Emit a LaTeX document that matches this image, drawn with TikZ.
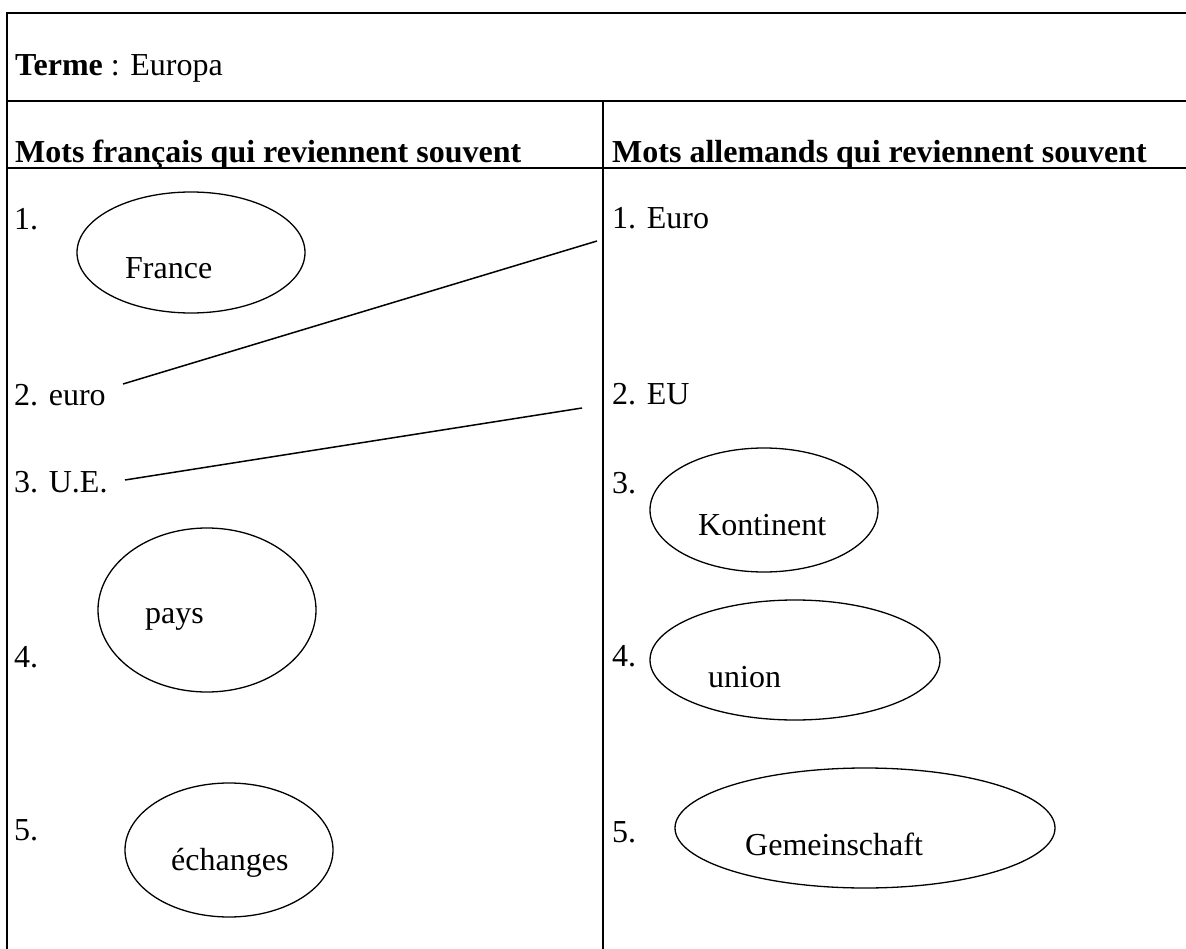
\documentclass[tikz,border=0pt]{standalone}
\usepackage{fontspec}
\setmainfont{Liberation Serif}
\usetikzlibrary{shapes.geometric}
\tikzset{
  rule/.style={line width=2pt},
  txt/.style={anchor=base west, inner sep=0pt, font=\fontsize{32}{38}\selectfont},
  oval/.style={draw, ellipse, line width=1.3pt, inner sep=0pt},
  link/.style={line width=1.5pt}
}
\begin{document}
\begin{tikzpicture}[x=1pt, y=-1pt]
\useasboundingbox (0,0) rectangle (1186,949);
% table rules
\draw[rule] (7,949) -- (7,12.7) -- (1186,12.7);
\draw[rule] (7,101.5) -- (1186,101.5);
\draw[rule] (7,167.7) -- (1186,167.7);
\draw[rule] (603,101.5) -- (603,949);
% headers
\node[txt] (terme) at (15,76) {\textbf{Terme} : Europa};
\node[txt] (hfr) at (15,163) {\textbf{Mots français qui reviennent souvent}};
\node[txt] (hde) at (612,163) {\textbf{Mots allemands qui reviennent souvent}};
% left column
\node[txt] (l1) at (14,230) {1.};
\node[txt] (l2) at (14,406) {2. euro};
\node[txt] (l3) at (14,492) {3. U.E.};
\node[txt] (l4) at (14,667) {4.};
\node[txt] (l5) at (14,840) {5.};
% right column
\node[txt] (r1) at (612,229) {1. Euro};
\node[txt] (r2) at (612,405) {2. EU};
\node[txt] (r3) at (612,493) {3.};
\node[txt] (r4) at (612,666) {4.};
\node[txt] (r5) at (612,842) {5.};
% ellipses
\node[oval, minimum width=228pt, minimum height=121pt] (eFrance) at (191,252.5) {};
\node[txt] (tFrance) at (125,279) {France};
\node[oval, minimum width=218pt, minimum height=164pt] (ePays) at (207,610) {};
\node[txt] (tPays) at (145,623) {pays};
\node[oval, minimum width=208pt, minimum height=134pt] (eEch) at (229,850) {};
\node[txt] (tEch) at (171,870) {échanges};
\node[oval, minimum width=228pt, minimum height=124pt] (eKont) at (764,510) {};
\node[txt] (tKont) at (698,535) {Kontinent};
\node[oval, minimum width=290pt, minimum height=120pt] (eUnion) at (795,660) {};
\node[txt] (tUnion) at (708,687) {union};
\node[oval, minimum width=380pt, minimum height=120pt] (eGem) at (865,828) {};
\node[txt] (tGem) at (745,855) {Gemeinschaft};
% connectors
\coordinate (a1) at (123,384);
\coordinate (b1) at (597,241);
\coordinate (a2) at (125,480);
\coordinate (b2) at (582,408);
\draw[link] (a1) -- (b1);
\draw[link] (a2) -- (b2);
\end{tikzpicture}
\end{document}
